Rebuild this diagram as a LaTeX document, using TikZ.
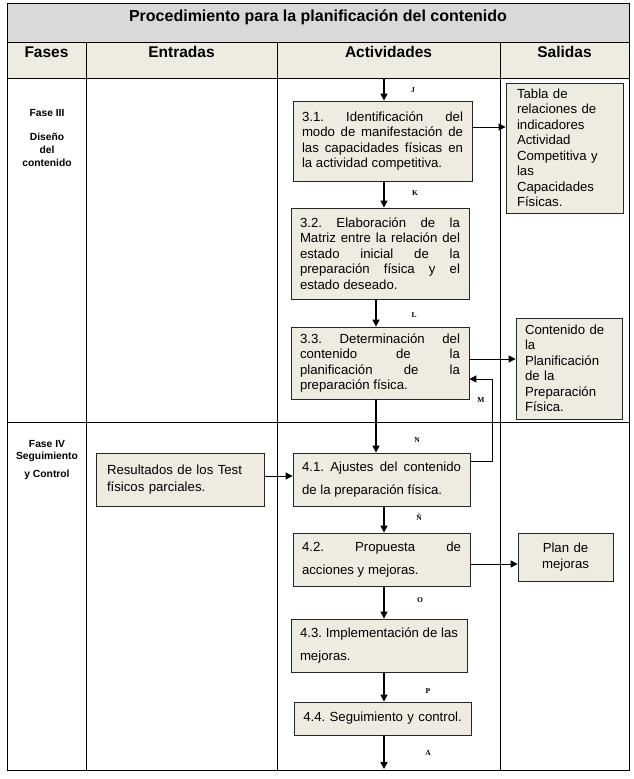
\documentclass[tikz,border=0pt]{standalone}
\usepackage{fontspec}
\setmainfont{Liberation Sans}
\newfontfamily\lblfont{Liberation Serif}
\usetikzlibrary{arrows.meta}
\definecolor{titlefill}{HTML}{D9D9D9}
\definecolor{headfill}{HTML}{EEECE1}
\definecolor{boxfill}{HTML}{EEECE1}
\frenchspacing
\begin{document}
\frenchspacing
\begin{tikzpicture}[x=1pt,y=-1pt,
  tl/.style={line width=1pt, draw=black},
  box/.style={draw=black!85, fill=boxfill, line width=0.8pt, inner xsep=9pt, inner ysep=0pt,
    font=\fontsize{13.2}{15.5}\selectfont\frenchspacing},
  boxw/.style={box, font=\fontsize{13.2}{23}\selectfont\frenchspacing},
  jus/.style={align=justify, execute at begin node={\tolerance=10000\hyphenpenalty=10000}},
  arr/.style={line width=1.4pt, -{Triangle[length=7pt,width=7pt]}},
  arrt/.style={line width=1pt, -{Triangle[length=7pt,width=7pt]}},
  lbl/.style={font=\lblfont\bfseries\fontsize{7.5}{8}\selectfont, inner sep=1pt},
  head/.style={font=\bfseries\fontsize{15.5}{18}\selectfont},
  phase/.style={font=\bfseries\fontsize{10.3}{13}\selectfont, align=center}]
\useasboundingbox (0,0) rectangle (634,779);
% table
\fill[titlefill] (7,3) rectangle (629,42);
\fill[headfill] (7,42) rectangle (629,78);
\draw[tl] (7,3) rectangle (629,770);
\draw[tl] (7,42) -- (629,42);
\draw[tl] (7,78) -- (629,78);
\draw[tl] (7,422) -- (629,422);
\draw[tl] (86,42) -- (86,770);
\draw[tl] (277,42) -- (277,770);
\draw[tl] (500,42) -- (500,770);
\node[font=\bfseries\fontsize{16}{18}\selectfont] (title) at (318,17) {Procedimiento para la planificación del contenido};
\node[head] (hf) at (46.5,52) {Fases};
\node[head] (he) at (181.5,52) {Entradas};
\node[head] (ha) at (388.5,52) {Actividades};
\node[head] (hs) at (564.5,52) {Salidas};
\node[phase] (f3) at (47,138) {Fase III\\[11pt]Diseño\\del\\contenido};
\node[phase, font=\bfseries\fontsize{10.3}{12}\selectfont] (f4) at (47,460) {Fase IV\\Seguimiento\\[6pt]y Control};
% boxes
\node[box, jus, text width=161pt, minimum height=80pt] (b31) at (382.5,141)
  {3.1. Identificación del\linebreak modo de manifestación de\linebreak las capacidades físicas en\linebreak la actividad competitiva.};
\node[box, jus, text width=160pt, minimum height=91pt] (b32) at (380,253.5)
  {3.2. Elaboración de la\linebreak Matriz entre la relación del\linebreak estado inicial de la\linebreak preparación física y el\linebreak estado deseado.};
\node[box, jus, text width=160pt, minimum height=72pt] (b33) at (380,363)
  {3.3. Determinación del\linebreak contenido de la\linebreak planificación de la\linebreak preparación física.};
\node[boxw, jus, text width=159pt, minimum height=53pt] (b41) at (381.5,479.5)
  {4.1. Ajustes del contenido\linebreak de la preparación física.};
\node[boxw, jus, text width=159pt, minimum height=53pt] (b42) at (381.5,559.5)
  {4.2. Propuesta de\linebreak acciones y mejoras.};
\node[boxw, jus, text width=158pt, minimum height=53pt] (b43) at (379,645.5)
  {4.3. Implementación de las\linebreak mejoras.};
\node[box, align=center, inner xsep=5pt, text width=167pt, minimum height=33pt] (b44) at (382.5,718.5)
  {4.4. Seguimiento y control.};
\node[box, align=left, inner xsep=11pt, text width=95pt, minimum height=130pt] (tabla) at (564.5,148)
  {Tabla de\\relaciones de\\indicadores\\Actividad\\Competitiva y\\las\\Capacidades\\Físicas.};
\node[box, align=left, inner xsep=9pt, text width=88pt, minimum height=101pt] (cont) at (569,368.5)
  {Contenido de\\la\\Planificación\\de la\\Preparación\\Física.};
\node[box, align=center, inner xsep=5pt, text width=85pt, minimum height=48pt, font=\fontsize{13.2}{16}\selectfont] (plan) at (565.5,557)
  {Plan de\\mejoras};
\node[box, align=left, inner xsep=11pt, text width=146pt, minimum height=53pt, font=\fontsize{13.2}{17}\selectfont] (res) at (180,479.5)
  {Resultados de los Test\\físicos parciales.};
% helper coordinates
\coordinate (cA) at (384,0);
\coordinate (cB) at (376,0);
\coordinate (topJ) at (384,78);
\coordinate (bot) at (384,769);
\coordinate (y1) at (0,127);
% connectors
\draw[arr] (topJ) -- (b31.north -| topJ);
\draw[arr] (b31.south -| cA) -- (b32.north -| cA);
\draw[arr] (b32.south -| cB) -- (b33.north -| cB);
\draw[arr] (b33.south -| cB) -- (b41.north -| cB);
\draw[arr] (b41.south -| cA) -- (b42.north -| cA);
\draw[arr] (b42.south -| cA) -- (b43.north -| cA);
\draw[arr] (b43.south -| cA) -- (b44.north -| cA);
\draw[arr] (b44.south -| cA) -- (bot);
\draw[arrt] (b31.east |- y1) -- (tabla.west |- y1);
\draw[arrt] ([yshift=4pt]b33.east) -- ([yshift=4pt]b33.east -| cont.west);
\draw[arrt] ([yshift=3.5pt]res.east) -- ([yshift=3.5pt]b41.west);
\draw[arrt] ([yshift=-4.5pt]b42.east) -- ([yshift=-4.5pt]b42.east -| plan.west);
\draw[arrt] ([yshift=18.5pt]b41.east) -- ++(22,0) |- ([yshift=-16pt]b33.east);
% labels
\node[lbl] (lJ) at (413,90) {J};
\node[lbl] (lK) at (415,193) {K};
\node[lbl] (lL) at (414,315) {L};
\node[lbl] (lM) at (481,400) {M};
\node[lbl] (lN) at (417,440) {N};
\node[lbl] (lNN) at (419,517) {Ñ};
\node[lbl] (lO) at (420,600) {O};
\node[lbl, fill=white] (lP) at (428,691) {P};
\node[lbl] (lA) at (428,753) {A};
\end{tikzpicture}
\end{document}
